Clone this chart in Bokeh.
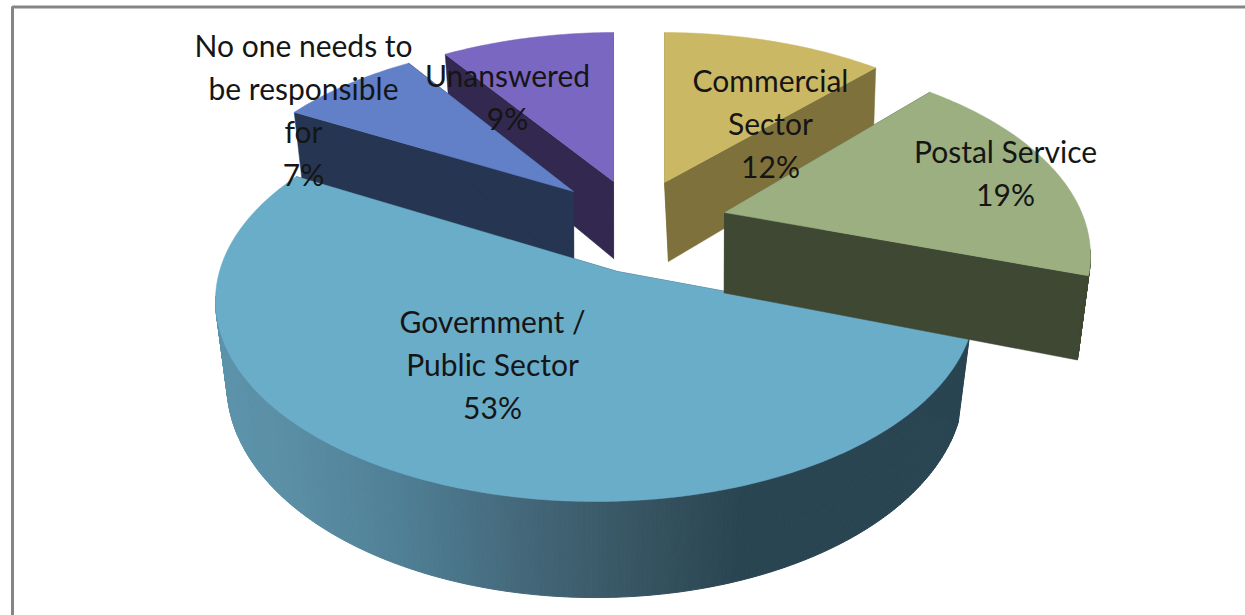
import math
from bokeh.plotting import figure
from bokeh.embed import file_html
from bokeh.resources import INLINE
from bokeh.core.properties import value

# ---- data ----
names = ["Commercial\nSector", "Postal Service", "Government /\nPublic Sector",
         "No one needs to\nbe responsible\nfor", "Unanswered"]
values = [12, 19, 53, 7, 9]

# ---- styles (one entry per slice, same order) ----
top_colors = ["#CBB864", "#9BAF80", "#6AADC9", "#6180C8", "#7A67C2"]
wall_colors = ["#7F713C", "#3F4832", "#2A4552", "#263551", "#33284F"]
apex = [(664, 182), (724, 212), (617, 271), (573, 191), (613, 181)]
centre = [(662, 231), (715, 255), (595, 300), (582, 239), (615, 231)]
radii = [(375, 199), (375, 199), (380, 201), (375, 199), (375, 199)]
tilt = [0.51, 0.52, 0.466, 0.526, 0.48]
shear = [0.0, -0.032, 0.0, -0.05, 0.0]
wall_shift = [4, 0, 0, 0, 0]
wall_depth = [82, 83, 84, 83, 80]
label_x = [770, 1005, 492, 303, 507]
label_y = [79, 150, 320, 44, 74]
paint_order = [4, 0, 3, 2, 1]
line_height = 43
wall_scale = 0.97
depth_gain = 0.06
gradient_x = [225, 290, 400, 520, 640, 740]
gradient_rgb = [(0x5C, 0x93, 0xAA), (0x5A, 0x8E, 0xA5), (0x4F, 0x7F, 0x95),
                (0x44, 0x68, 0x7A), (0x37, 0x54, 0x62), (0x2A, 0x45, 0x52)]

W, H = 1245, 615
p = figure(width=W, height=H, x_range=(0, W), y_range=(H, 0),
           output_backend="svg", toolbar_location=None, min_border=0,
           outline_line_color=None, background_fill_color="white",
           border_fill_color="white",
           styles={"position": "absolute", "left": "0px", "top": "0px"})
p.axis.visible = False
p.xgrid.visible = False
p.ygrid.visible = False

# chart frame
p.line([12, 12, W], [H, 6.5, 6.5], line_color="#858585", line_width=3)


def ray_param(i, theta):
    ax, ay = apex[i]
    cx, cy = centre[i]
    rx, ry = radii[i]
    dx = math.sin(theta)
    dy = -tilt[i] * math.cos(theta) + shear[i] * math.sin(theta)
    ox, oy = (ax - cx) / rx, (ay - cy) / ry
    ux, uy = dx / rx, dy / ry
    A = ux * ux + uy * uy
    B = 2 * (ox * ux + oy * uy)
    C = ox * ox + oy * oy - 1
    t = (-B + math.sqrt(B * B - 4 * A * C)) / (2 * A)
    return math.atan2(oy + t * uy, ox + t * ux)


def rim(i, phi):
    cx, cy = centre[i]
    rx, ry = radii[i]
    return cx + rx * math.cos(phi), cy + ry * math.sin(phi)


def lower(i, pt):
    cx, cy = centre[i]
    x, y = pt
    return (cx + wall_scale * (x - cx) + wall_shift[i],
            y + wall_depth[i] + depth_gain * (y - cy))


def gradient(x):
    if x <= gradient_x[0]:
        c = gradient_rgb[0]
    elif x >= gradient_x[-1]:
        c = gradient_rgb[-1]
    else:
        for k in range(len(gradient_x) - 1):
            if gradient_x[k] <= x <= gradient_x[k + 1]:
                f = (x - gradient_x[k]) / (gradient_x[k + 1] - gradient_x[k])
                c = tuple(gradient_rgb[k][j] + f * (gradient_rgb[k + 1][j] - gradient_rgb[k][j]) for j in range(3))
                break
    return "#%02x%02x%02x" % tuple(int(round(v)) for v in c)


total = sum(values)
starts = []
acc = 0
for v in values:
    starts.append(acc)
    acc += v

for i in paint_order:
    th0 = 2 * math.pi * starts[i] / total
    th1 = 2 * math.pi * (starts[i] + values[i]) / total
    ph0 = ray_param(i, th0)
    ph1 = ray_param(i, th1)
    while ph1 <= ph0:
        ph1 += 2 * math.pi
    n = max(8, int(math.degrees(ph1 - ph0) / 0.75))
    phis = [ph0 + (ph1 - ph0) * k / n for k in range(n + 1)]
    arc = [rim(i, f) for f in phis]
    a = apex[i]
    a_low = lower(i, a)

    # radial walls
    for end in (arc[0], arc[-1]):
        e_low = lower(i, end)
        p.patch([a[0], end[0], e_low[0], a_low[0]], [a[1], end[1], e_low[1], a_low[1]],
                fill_color=wall_colors[i], line_color=wall_colors[i], line_width=0.5)

    # outer wall, front half only
    xs, ys, cols = [], [], []
    for k in range(n):
        if math.sin(phis[k]) < -0.02 and math.sin(phis[k + 1]) < -0.02:
            continue
        p0, p1 = arc[k], arc[k + 1]
        q0, q1 = lower(i, p0), lower(i, p1)
        xs.append([p0[0], p1[0], q1[0], q0[0]])
        ys.append([p0[1], p1[1], q1[1], q0[1]])
        cols.append(gradient((p0[0] + p1[0]) / 2) if i == 2 else wall_colors[i])
    if xs:
        p.patches(xs, ys, fill_color=cols, line_color=cols, line_width=1)

    # top face
    p.patch([a[0]] + [q[0] for q in arc], [a[1]] + [q[1] for q in arc],
            fill_color=top_colors[i], line_color=top_colors[i], line_width=0.5)

# labels
tx, ty, tt = [], [], []
for i in range(len(values)):
    lines = names[i].split("\n") + [f"{values[i]}%"]
    for j, s in enumerate(lines):
        tx.append(label_x[i])
        ty.append(label_y[i] + j * line_height)
        tt.append(s)
p.text(tx, ty, text=tt, text_align="center", text_baseline="middle",
       text_font=value("Lato"), text_font_size="30px", text_color="#151515")

open("out.html", "w").write(file_html(p, INLINE))
